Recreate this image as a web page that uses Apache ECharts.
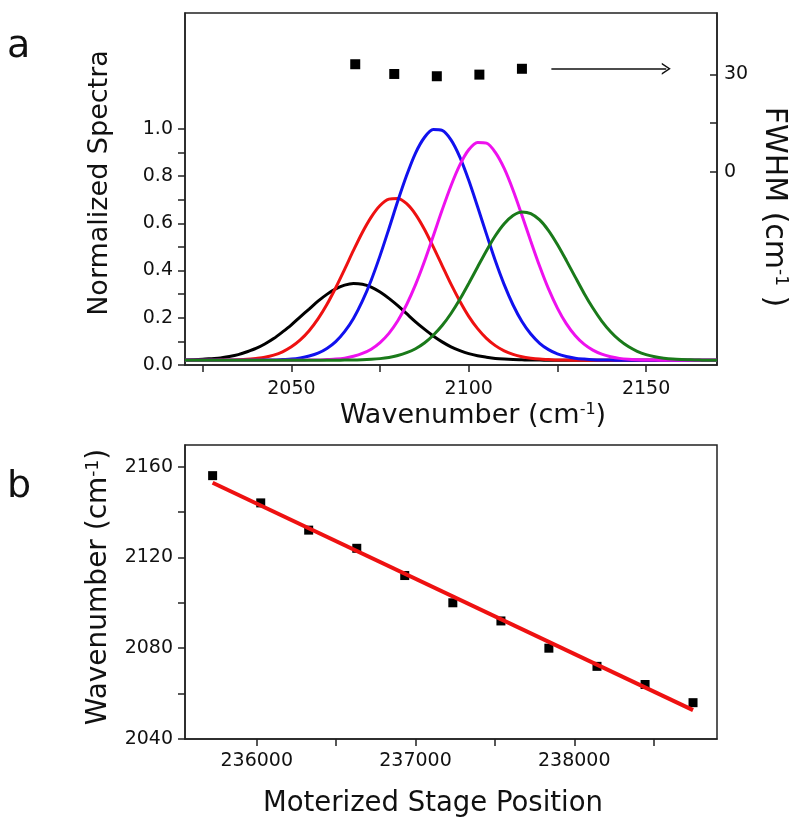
<!DOCTYPE html>
<html>
<head>
<meta charset="utf-8">
<script src="https://cdn.jsdelivr.net/npm/echarts@6/dist/echarts.min.js"></script>
<style>
  html, body { margin: 0; padding: 0; background: #fff; }
  #chart { width: 800px; height: 829px; }
</style>
</head>
<body>
<div id="chart"></div>
<script>
// ---- Panel a: normalized spectra ----
const spectraX = [2020,2022.5,2025,2027.5,2030,2032.5,2035,2037.5,2040,2042.5,2045,2047.5,2050,2052.5,2055,2057.5,2060,2062.5,2065,2067.5,2070,2072.5,2075,2077.5,2080,2082.5,2085,2087.5,2090,2092.5,2095,2097.5,2100,2102.5,2105,2107.5,2110,2112.5,2115,2117.5,2120,2122.5,2125,2127.5,2130,2132.5,2135,2137.5,2140,2142.5,2145,2147.5,2150,2152.5,2155,2157.5,2160,2162.5,2165,2167.5,2170];
const spectrumBlack   = [0.021,0.022,0.024,0.027,0.030,0.036,0.044,0.056,0.070,0.089,0.112,0.140,0.170,0.204,0.237,0.270,0.299,0.322,0.338,0.345,0.342,0.330,0.309,0.282,0.251,0.217,0.183,0.152,0.123,0.098,0.077,0.061,0.048,0.039,0.033,0.028,0.025,0.023,0.022,0.021,0.021,0.020,0.020,0.020,0.020,0.020,0.020,0.020,0.020,0.020,0.020,0.020,0.020,0.020,0.020,0.020,0.020,0.020,0.020,0.020,0.020];
const spectrumRed     = [0.020,0.020,0.020,0.020,0.021,0.021,0.022,0.024,0.028,0.033,0.042,0.056,0.077,0.106,0.145,0.195,0.256,0.327,0.405,0.485,0.561,0.626,0.675,0.702,0.705,0.683,0.638,0.575,0.500,0.421,0.342,0.270,0.206,0.154,0.113,0.082,0.060,0.045,0.035,0.029,0.025,0.023,0.021,0.021,0.020,0.020,0.020,0.020,0.020,0.020,0.020,0.020,0.020,0.020,0.020,0.020,0.020,0.020,0.020,0.020,0.020];
const spectrumBlue    = [0.020,0.020,0.020,0.020,0.020,0.020,0.020,0.020,0.020,0.021,0.021,0.023,0.025,0.030,0.038,0.050,0.070,0.099,0.141,0.197,0.270,0.359,0.463,0.577,0.694,0.803,0.897,0.963,0.997,0.993,0.953,0.880,0.782,0.670,0.554,0.441,0.340,0.254,0.184,0.131,0.092,0.065,0.047,0.036,0.029,0.025,0.022,0.021,0.021,0.020,0.020,0.020,0.020,0.020,0.020,0.020,0.020,0.020,0.020,0.020,0.020];
const spectrumMagenta = [0.020,0.020,0.020,0.020,0.020,0.020,0.020,0.020,0.020,0.020,0.020,0.020,0.020,0.020,0.021,0.021,0.023,0.025,0.029,0.037,0.049,0.067,0.095,0.134,0.187,0.256,0.340,0.438,0.546,0.656,0.759,0.847,0.911,0.942,0.939,0.900,0.832,0.740,0.634,0.524,0.418,0.322,0.241,0.175,0.125,0.088,0.063,0.046,0.035,0.028,0.024,0.022,0.021,0.021,0.020,0.020,0.020,0.020,0.020,0.020,0.020];
const spectrumGreen   = [0.020,0.020,0.020,0.020,0.020,0.020,0.020,0.020,0.020,0.020,0.020,0.020,0.020,0.020,0.020,0.020,0.020,0.020,0.021,0.021,0.022,0.024,0.027,0.032,0.040,0.052,0.069,0.093,0.126,0.167,0.218,0.278,0.345,0.415,0.484,0.547,0.598,0.633,0.648,0.641,0.614,0.569,0.510,0.443,0.373,0.304,0.241,0.186,0.141,0.105,0.078,0.058,0.044,0.035,0.029,0.025,0.023,0.022,0.021,0.020,0.020];

const fwhmX = [2068, 2079, 2091, 2103, 2115];
const fwhmY = [33.1, 30.1, 29.4, 29.9, 31.7];
const arrowX = [2123.3, 2155.7];
const arrowY = 31.7;

const aXTicks  = [2025, 2050, 2075, 2100, 2125, 2150];
const aXLabels = [2050, 2100, 2150];
const aYTicks  = [0, 0.1, 0.2, 0.3, 0.4, 0.5, 0.6, 0.7, 0.8, 0.9, 1.0];
const aYLabels = [0, 0.2, 0.4, 0.6, 0.8, 1.0];
const fwhmTicks  = [0, 15, 30];
const fwhmLabels = [0, 30];

// ---- Panel b: calibration ----
const stageX = [235722, 236025, 236327, 236630, 236932, 237235, 237538, 237840, 238143, 238446, 238748];
const stageY = [2156, 2144, 2132, 2124, 2112, 2100, 2092, 2080, 2072, 2064, 2056];
const fitX = [235722, 238748];
const fitY = [2152.9, 2052.7];

const bXTicks  = [236000, 236500, 237000, 237500, 238000, 238500];
const bXLabels = [236000, 237000, 238000];
const bYTicks  = [2040, 2060, 2080, 2100, 2120, 2140, 2160];
const bYLabels = [2040, 2080, 2120, 2160];

const FONT = '"DejaVu Sans", Verdana, sans-serif';
const AXC = '#222';
const TXT = '#111';
const SMOOTH = 0.3;
const pair = (xs, ys) => xs.map((x, i) => [x, ys[i]]);

function supRich(size) {
  return { sup: { fontSize: size, lineHeight: 14, verticalAlign: 'top', fontFamily: FONT, color: TXT } };
}

function axisBase(extra) {
  return Object.assign({
    type: 'value',
    axisLine: { show: true, onZero: false, lineStyle: { color: AXC, width: 1.5 } },
    splitLine: { show: false }
  }, extra);
}
function ticks(values, inside) {
  return { show: true, inside: !!inside, length: 7, customValues: values, lineStyle: { color: AXC, width: 1.5 } };
}
function labels(values, margin, fmt) {
  return { fontSize: 19, color: TXT, fontFamily: FONT, margin: margin, customValues: values, formatter: fmt || (v => String(v)) };
}

const chart = echarts.init(document.getElementById('chart'), null, { renderer: 'canvas' });

const chevron = 'path://M0,10 L5,0 L10,10 L8.6,10 L5,2.8 L1.4,10 Z';

const option = {
  animation: false,
  backgroundColor: '#fff',
  textStyle: { fontFamily: FONT },
  grid: [
    { left: 185, top: 13, width: 532, height: 352, show: true, borderColor: AXC, borderWidth: 1.5, backgroundColor: 'transparent' },
    { left: 185, top: 445, width: 532, height: 294, show: true, borderColor: AXC, borderWidth: 1.5, backgroundColor: 'transparent' }
  ],
  graphic: [
    { type: 'text', left: 7, top: 28, style: { text: 'a', fontSize: 38, fontFamily: FONT, fill: TXT } },
    { type: 'text', left: 7, top: 468, style: { text: 'b', fontSize: 38, fontFamily: FONT, fill: TXT } }
  ],
  xAxis: [
    axisBase({
      gridIndex: 0, position: 'bottom', min: 2020, max: 2170,
      axisTick: ticks(aXTicks), axisLabel: labels(aXLabels, 15),
      name: 'Wavenumber (cm{sup|-1})', nameLocation: 'middle', nameGap: 37,
      nameTextStyle: { fontSize: 27, color: TXT, fontFamily: FONT, padding: [0, 0, 0, 44], rich: supRich(16) }
    }),
    axisBase({
      gridIndex: 1, position: 'bottom', min: 235548, max: 238899,
      axisTick: ticks(bXTicks), axisLabel: labels(bXLabels, 13),
      name: 'Moterized Stage Position', nameLocation: 'middle', nameGap: 51,
      nameTextStyle: { fontSize: 27.5, color: TXT, fontFamily: FONT, padding: [0, 36, 0, 0] }
    })
  ],
  yAxis: [
    axisBase({
      gridIndex: 0, position: 'left', min: 0, max: 1.49,
      axisTick: ticks(aYTicks), axisLabel: labels(aYLabels, 12, v => v.toFixed(1)),
      name: 'Normalized Spectra', nameLocation: 'middle', nameGap: 72, nameRotate: 90,
      nameTextStyle: { fontSize: 27, color: TXT, fontFamily: FONT, padding: [0, 0, 0, 12] }
    }),
    axisBase({
      gridIndex: 0, position: 'right', min: -59.54, max: 48.88,
      axisTick: ticks(fwhmTicks, true), axisLabel: labels(fwhmLabels, 7),
      name: 'FWHM (cm{sup|-1} )', nameLocation: 'middle', nameGap: 42, nameRotate: -90,
      nameTextStyle: { fontSize: 30, color: TXT, fontFamily: FONT, padding: [0, 0, 0, 36], rich: supRich(17) }
    }),
    axisBase({
      gridIndex: 1, position: 'left', min: 2040, max: 2169.5,
      axisTick: ticks(bYTicks), axisLabel: labels(bYLabels, 12),
      name: 'Wavenumber (cm{sup|-1})', nameLocation: 'middle', nameGap: 72, nameRotate: 90,
      nameTextStyle: { fontSize: 28, color: TXT, fontFamily: FONT, padding: [0, 0, 0, 10], rich: supRich(17) }
    })
  ],
  series: [
    { type: 'line', xAxisIndex: 0, yAxisIndex: 0, data: pair(spectraX, spectrumBlack), smooth: SMOOTH, showSymbol: false, lineStyle: { color: '#000000', width: 3 } },
    { type: 'line', xAxisIndex: 0, yAxisIndex: 0, data: pair(spectraX, spectrumRed), smooth: SMOOTH, showSymbol: false, lineStyle: { color: '#ee1111', width: 3 } },
    { type: 'line', xAxisIndex: 0, yAxisIndex: 0, data: pair(spectraX, spectrumBlue), smooth: SMOOTH, showSymbol: false, lineStyle: { color: '#1111ee', width: 3 } },
    { type: 'line', xAxisIndex: 0, yAxisIndex: 0, data: pair(spectraX, spectrumMagenta), smooth: SMOOTH, showSymbol: false, lineStyle: { color: '#ee11ee', width: 3 } },
    { type: 'line', xAxisIndex: 0, yAxisIndex: 0, data: pair(spectraX, spectrumGreen), smooth: SMOOTH, showSymbol: false, lineStyle: { color: '#1a7a1a', width: 3 } },
    {
      type: 'scatter', xAxisIndex: 0, yAxisIndex: 1, data: pair(fwhmX, fwhmY),
      symbol: 'rect', symbolSize: 10, itemStyle: { color: '#000', opacity: 1 },
      markLine: {
        silent: true, animation: false,
        symbol: ['none', chevron], symbolSize: [12, 9],
        label: { show: false },
        lineStyle: { color: '#111', width: 1.5, type: 'solid' },
        data: [[{ coord: [arrowX[0], arrowY] }, { coord: [arrowX[1], arrowY] }]]
      }
    },
    { type: 'scatter', xAxisIndex: 1, yAxisIndex: 2, data: pair(stageX, stageY), symbol: 'rect', symbolSize: 9, itemStyle: { color: '#000', opacity: 1 } },
    { type: 'line', xAxisIndex: 1, yAxisIndex: 2, data: pair(fitX, fitY), showSymbol: false, lineStyle: { color: '#ee1111', width: 4 } }
  ]
};

chart.setOption(option);
</script>
</body>
</html>
